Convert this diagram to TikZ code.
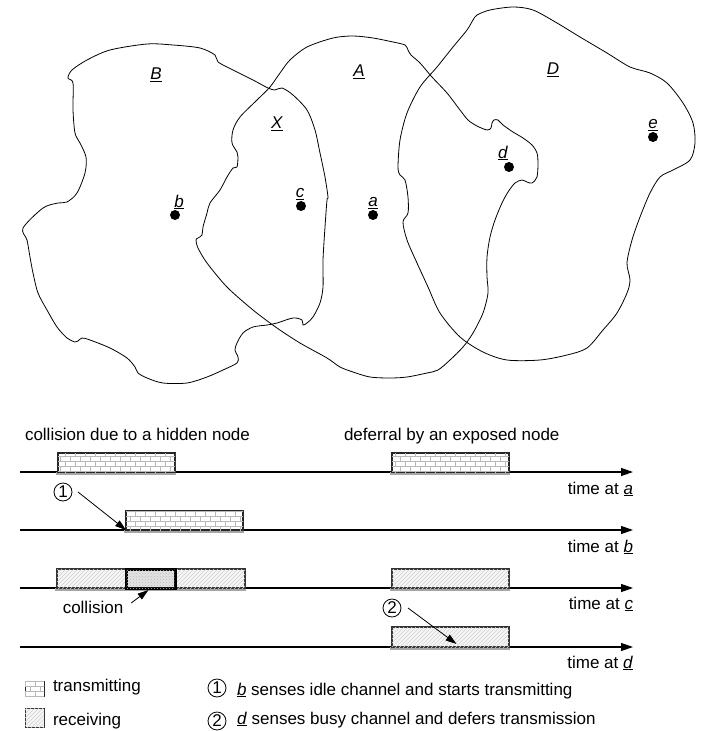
\documentclass[tikz,border=0pt]{standalone}
\usepackage{fontspec}
\setmainfont{Liberation Sans}
\usetikzlibrary{arrows.meta,patterns}
\newcommand\myfs{\fontsize{17}{20}\selectfont}
\newcommand\ul[1]{\underline{\textit{#1}}}
\pgfdeclarepatternformonly{tinybricks}{\pgfqpoint{-1pt}{-1pt}}{\pgfqpoint{11pt}{11pt}}{\pgfqpoint{10pt}{10pt}}{%
\pgfsetlinewidth{0.5pt}%
\pgfpathmoveto{\pgfqpoint{0pt}{0pt}}\pgfpathlineto{\pgfqpoint{10pt}{0pt}}%
\pgfpathmoveto{\pgfqpoint{0pt}{5pt}}\pgfpathlineto{\pgfqpoint{10pt}{5pt}}%
\pgfpathmoveto{\pgfqpoint{0pt}{0pt}}\pgfpathlineto{\pgfqpoint{0pt}{5pt}}%
\pgfpathmoveto{\pgfqpoint{5pt}{5pt}}\pgfpathlineto{\pgfqpoint{5pt}{10pt}}%
\pgfusepath{stroke}}
\pgfdeclarepatternformonly{finehatch}{\pgfqpoint{-1pt}{-1pt}}{\pgfqpoint{5pt}{5pt}}{\pgfqpoint{4pt}{4pt}}{%
\pgfsetlinewidth{0.4pt}%
\pgfpathmoveto{\pgfqpoint{0pt}{0pt}}\pgfpathlineto{\pgfqpoint{4.1pt}{4.1pt}}%
\pgfusepath{stroke}}
\begin{document}
\begin{tikzpicture}[x=1pt,y=-1pt,
  every node/.style={inner sep=0pt,outer sep=0pt,font=\myfs},
  blob/.style={line width=0.8pt,line join=round},
  dot/.style={circle,fill=black,minimum size=10pt},
  timeline/.style={line width=1.2pt,-{Triangle[length=12pt,width=8pt]}},
  ptr/.style={line width=0.8pt,-{Triangle[length=11pt,width=7pt]}},
  circ/.style={draw,circle,line width=0.8pt,minimum size=18pt},
  txbox/.style={draw=black!85,line width=1.5pt,fill=white,postaction={pattern=tinybricks,pattern color=gray!55}},
  rxbox/.style={draw=black!80,line width=1.5pt,fill=gray!8,postaction={pattern=finehatch,pattern color=gray!35}},
  colbox/.style={draw=black,line width=3pt,fill=gray!22,postaction={pattern=crosshatch dots,pattern color=gray!55}},
  shadow/.style={draw=gray!70,line width=2.5pt}]
\useasboundingbox (0,0) rectangle (705,731);
% ---- regions ----
\draw[blob] plot[smooth cycle,tension=0.5] coordinates {
(23,228) (43,208) (58,203) (67,202) (77,193) (85,173) (86,157) (80,143) (75,133) (73,110) (73,83) (68,78) (72,70) (87,60) (110,50) (147,44) (173,45) (200,48) (215,55) (218,62) (233,70) (253,80) (268,88) (275,90) (282,88) (293,95) (307,110) (315,130) (320,153) (325,177) (328,197) (327,200) (325,227) (323,260) (323,287) (320,303) (313,317) (307,323) (303,325) (302,320) (293,318) (277,323) (267,325) (253,327) (243,333) (237,343) (235,350) (238,357) (237,363) (223,370) (207,377) (187,383) (163,383) (147,378) (138,373) (135,367) (127,358) (110,348) (90,340) (82,338) (78,341) (75,342) (67,338) (57,327) (47,310) (38,293) (33,273) (30,257) (27,240)};
\draw[blob] plot[smooth cycle,tension=0.5] coordinates {
(333,38) (353,36) (373,38) (393,42) (405,45) (408,50) (411,55) (420,63) (432,77) (447,93) (460,110) (468,120) (477,126) (487,130) (491,128) (492,123) (494,120) (498,120) (503,125) (513,132) (523,138) (532,145) (537,153) (538,163) (537,177) (532,183) (527,182) (522,180) (515,183) (508,192) (502,203) (495,220) (490,237) (487,257) (487,277) (488,293) (483,313) (473,333) (463,347) (450,360) (438,370) (427,373) (407,377) (390,378) (370,377) (353,372) (340,367) (327,358) (300,343) (277,328) (253,310) (227,287) (207,263) (198,248) (196,240) (198,238) (202,235) (203,227) (207,213) (210,203) (220,190) (227,177) (233,168) (237,167) (238,157) (237,152) (232,143) (233,130) (240,117) (257,100) (270,87) (280,73) (290,60) (307,47)};
\draw[blob] plot[smooth cycle,tension=0.5] coordinates {
(473,20) (477,15) (490,10) (513,7) (533,10) (557,23) (580,37) (607,53) (630,67) (650,73) (667,83) (683,103) (693,123) (695,143) (690,160) (673,170) (660,177) (650,193) (640,217) (632,240) (627,263) (630,280) (627,293) (617,313) (603,330) (587,348) (567,355) (540,360) (507,360) (483,352) (460,337) (440,313) (428,287) (417,263) (407,240) (403,222) (408,213) (408,197) (405,180) (400,175) (398,167) (400,140) (407,113) (420,87) (437,67) (453,47) (467,30)};
\node (LB) at (156,75) {\ul{B}};
\node (LX) at (277,124) {\ul{X}};
\node (LA) at (359,72) {\ul{A}};
\node (LD) at (553,70) {\ul{D}};
\node[dot] (b) at (175,215) {};
\node[dot] (c) at (301,206) {};
\node[dot] (a) at (373,215) {};
\node[dot] (d) at (509,167) {};
\node[dot] (e) at (653,137) {};
\node (lb) at (179,202) {\ul{b}};
\node (lc) at (300,194) {\ul{c}};
\node (la) at (373,203) {\ul{a}};
\node (ld) at (503,153) {\ul{d}};
\node (le) at (653,125) {\ul{e}};
% ---- timelines ----
\node[anchor=base west] (t1) at (25,440) {collision due to a hidden node};
\node[anchor=base west] (t2) at (344,440) {deferral by an exposed node};
\coordinate (sa) at (20,472); \coordinate (ea) at (633,472);
\coordinate (sb) at (20,530); \coordinate (eb) at (633,530);
\coordinate (sc) at (20,588); \coordinate (ec) at (633,588);
\coordinate (sd) at (20,647); \coordinate (ed) at (633,647);
\draw[timeline] (sa) -- (ea);
\draw[timeline] (sb) -- (eb);
\draw[timeline] (sc) -- (ec);
\draw[timeline] (sd) -- (ed);
\node[anchor=base east] (tla) at (633,494) {time at \ul{a}};
\node[anchor=base east] (tlb) at (633,552) {time at \ul{b}};
\node[anchor=base east] (tlc) at (633,609) {time at \ul{c}};
\node[anchor=base east] (tld) at (633,668) {time at \ul{d}};
% shadows
\draw[shadow] (56,473.5) -- (176,473.5);
\draw[shadow] (390,473.5) -- (510,473.5);
\draw[shadow] (124,531.5) -- (244,531.5);
\draw[shadow] (55,589.5) -- (246,589.5);
\draw[shadow] (390,589.5) -- (510,589.5);
\draw[shadow] (390,648.5) -- (510,648.5);
% boxes
\node[txbox,minimum width=117pt,minimum height=19pt,anchor=south west] (ta1) at (58,472) {};
\node[txbox,minimum width=117pt,minimum height=19pt,anchor=south west] (ta2) at (392,472) {};
\node[txbox,minimum width=117pt,minimum height=19pt,anchor=south west] (tb) at (126,530) {};
\node[rxbox,minimum width=69pt,minimum height=19pt,anchor=south west] (rc1) at (57,588) {};
\node[rxbox,minimum width=70pt,minimum height=19pt,anchor=south west] (rc2) at (175,588) {};
\node[colbox,minimum width=49pt,minimum height=19pt,anchor=south west] (cc) at (126,588) {};
\node[rxbox,minimum width=117pt,minimum height=19pt,anchor=south west] (rc3) at (392,588) {};
\node[rxbox,minimum width=117pt,minimum height=20pt,anchor=south west] (rd) at (392,647) {};
% annotations
\node[circ] (n1) at (63,492) {1};
\draw[ptr] ([xshift=6pt]n1.east) -- (tb.south west);
\node[circ] (n2) at (392,608) {2};
\draw[ptr] ([xshift=7pt]n2.east) -- ([xshift=6pt,yshift=3pt]rd.south);
\node (col) at (93,607) {collision};
\draw[ptr] ([xshift=8pt,yshift=4pt]col.east) -- ([xshift=-2pt,yshift=-2pt]cc.south);
% legend
\node[txbox,line width=1pt,minimum width=19pt,minimum height=15pt,anchor=north west] (lt) at (25,681) {};
\node[rxbox,line width=1pt,minimum width=19pt,minimum height=19pt,anchor=north west] (lr) at (25,708) {};
\node[anchor=west] (ltt) at (53,687) {transmitting};
\node[anchor=west] (lrt) at (53,721) {receiving};
\node[circ] (m1) at (217,688) {1};
\node[circ] (m2) at (217,721) {2};
\node[anchor=base west] (x1) at (237,695) {\ul{b} senses idle channel and starts transmitting};
\node[anchor=base west] (x2) at (237,724) {\ul{d} senses busy channel and defers transmission};
\end{tikzpicture}
\end{document}
